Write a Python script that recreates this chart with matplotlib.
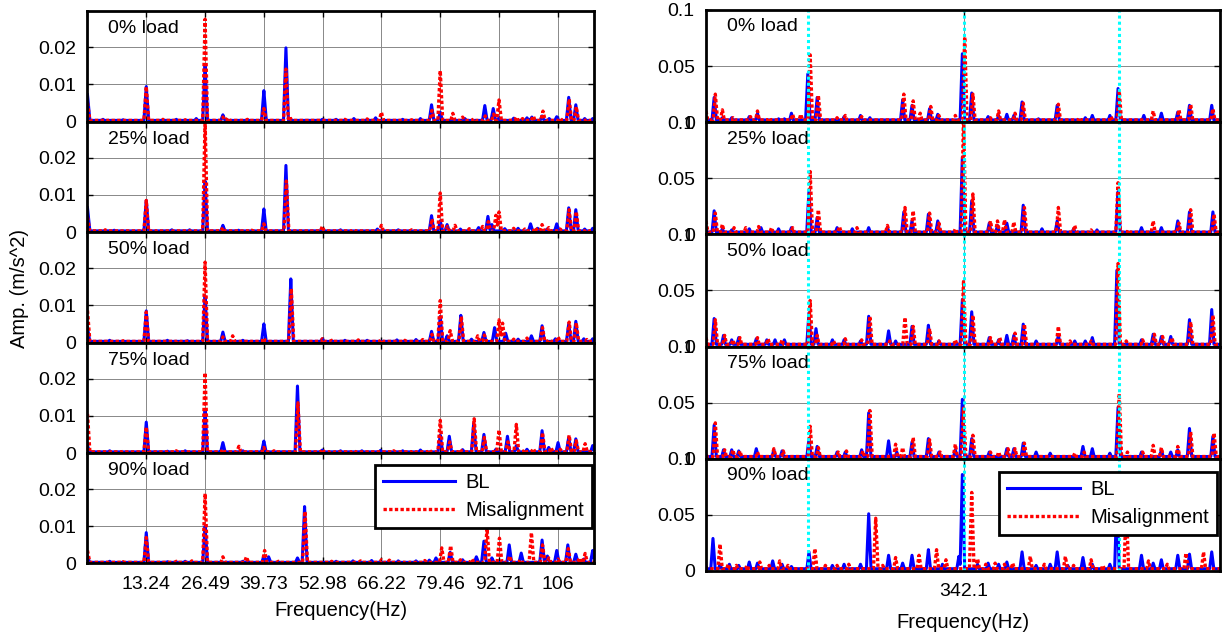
import numpy as np
import matplotlib.pyplot as plt

plt.rcParams['font.family'] = ['Liberation Sans', 'DejaVu Sans']
plt.rcParams['font.size'] = 14

loads = ['0% load', '25% load', '50% load', '75% load', '90% load']

# ---- low band spectra: (frequency Hz, amplitude m/s^2) ----
low_bl_0 = [(0.0, 0.0072), (13.24, 0.0094), (26.49, 0.0150), (30.5, 0.0018), (39.73, 0.0083), (44.7, 0.0198),
            (52.9, 0.0006), (64.9, 0.0010), (77.5, 0.0045), (79.46, 0.0025), (89.5, 0.0043), (91.4, 0.0035),
            (92.7, 0.0010), (99.0, 0.0010), (100.1, 0.0012), (102.4, 0.0015), (105.7, 0.0013), (108.4, 0.0065),
            (110.0, 0.0045), (113.8, 0.0008),
            (3.5, 0.0006), (8.0, 0.0005), (20.0, 0.0006), (24.5, 0.0008), (56.0, 0.0006), (60.0, 0.0008),
            (71.0, 0.0006), (75.0, 0.0008), (85.0, 0.0008), (96.0, 0.0009), (104.0, 0.0008), (112.0, 0.0008)]
low_mis_0 = [(0.0, 0.0050), (13.24, 0.0094), (26.49, 0.0275), (30.5, 0.0012), (31.6, 0.0010), (39.73, 0.0035),
             (44.7, 0.0141), (45.5, 0.0015), (66.2, 0.0025), (77.6, 0.0030), (79.46, 0.0137), (82.3, 0.0022),
             (84.5, 0.0012), (89.6, 0.0015), (91.5, 0.0020), (92.7, 0.0058), (96.6, 0.0012), (100.4, 0.0015),
             (102.6, 0.0028), (108.5, 0.0060), (110.1, 0.0040),
             (5.0, 0.0005), (17.0, 0.0006), (22.0, 0.0005), (36.0, 0.0006), (58.0, 0.0006), (63.0, 0.0007),
             (73.0, 0.0005), (87.0, 0.0008), (98.0, 0.0008), (106.5, 0.0009), (112.5, 0.0007)]
low_bl_25 = [(0.0, 0.0065), (13.24, 0.0085), (26.49, 0.0137), (30.5, 0.0018), (39.73, 0.0062), (44.7, 0.0179),
             (52.9, 0.0007), (65.3, 0.0008), (77.5, 0.0044), (79.46, 0.0030), (81.0, 0.0020), (88.1, 0.0012),
             (90.2, 0.0042), (91.1, 0.0020), (97.0, 0.0010), (99.8, 0.0022), (101.4, 0.0010), (105.7, 0.0022),
             (108.4, 0.0065), (110.0, 0.0060), (113.8, 0.0010),
             (6.0, 0.0005), (19.0, 0.0006), (23.0, 0.0006), (34.0, 0.0005), (57.0, 0.0006), (70.0, 0.0006),
             (84.0, 0.0008), (94.0, 0.0009), (103.5, 0.0008), (112.0, 0.0008)]
low_mis_25 = [(0.0, 0.0040), (13.24, 0.0085), (26.49, 0.0300), (30.5, 0.0012), (39.73, 0.0022), (44.8, 0.0137),
              (52.9, 0.0015), (66.2, 0.0018), (77.6, 0.0035), (79.46, 0.0105), (81.1, 0.0015), (82.8, 0.0018),
              (89.0, 0.0015), (90.3, 0.0028), (92.0, 0.0045), (92.7, 0.0054), (96.0, 0.0010), (100.9, 0.0012),
              (102.4, 0.0020), (103.9, 0.0012), (108.5, 0.0060), (110.1, 0.0055),
              (4.0, 0.0006), (16.0, 0.0005), (37.0, 0.0005), (60.0, 0.0007), (73.0, 0.0006), (86.0, 0.0009),
              (98.5, 0.0008), (106.5, 0.0008), (112.5, 0.0007)]
low_bl_50 = [(0.0, 0.0040), (13.24, 0.0085), (26.49, 0.0125), (30.5, 0.0028), (39.73, 0.0050), (45.8, 0.0171),
             (52.9, 0.0010), (69.7, 0.0007), (77.5, 0.0030), (79.46, 0.0070), (81.0, 0.0018), (84.1, 0.0073),
             (89.3, 0.0027), (91.7, 0.0040), (94.2, 0.0025), (100.0, 0.0018), (102.4, 0.0045), (105.4, 0.0010),
             (108.4, 0.0050), (110.0, 0.0057), (111.8, 0.0010), (113.8, 0.0010),
             (5.0, 0.0006), (18.0, 0.0006), (22.5, 0.0005), (35.0, 0.0006), (58.0, 0.0006), (63.0, 0.0006),
             (74.0, 0.0008), (86.5, 0.0009), (97.0, 0.0009)]
low_mis_50 = [(0.0, 0.0086), (13.24, 0.0082), (26.49, 0.0216), (30.5, 0.0015), (32.7, 0.0018), (39.73, 0.0012),
              (45.9, 0.0145), (52.9, 0.0010), (66.2, 0.0008), (77.6, 0.0022), (79.46, 0.0113), (81.7, 0.0032),
              (84.2, 0.0070), (87.9, 0.0018), (89.4, 0.0020), (92.7, 0.0061), (93.5, 0.0052), (99.0, 0.0012),
              (102.5, 0.0040), (106.0, 0.0015), (108.5, 0.0055), (110.1, 0.0053),
              (8.0, 0.0005), (20.5, 0.0006), (36.5, 0.0005), (55.0, 0.0006), (61.0, 0.0007), (71.5, 0.0006),
              (75.5, 0.0008), (96.0, 0.0009), (104.0, 0.0008), (112.5, 0.0008)]
low_bl_75 = [(0.0, 0.0020), (13.24, 0.0083), (26.49, 0.0113), (30.5, 0.0028), (39.73, 0.0032), (47.3, 0.0180),
             (52.9, 0.0008), (61.8, 0.0006), (79.46, 0.0048), (81.5, 0.0045), (87.0, 0.0080), (89.3, 0.0050),
             (94.6, 0.0045), (96.6, 0.0020), (102.4, 0.0060), (103.9, 0.0015), (106.0, 0.0028), (108.4, 0.0042),
             (110.0, 0.0038), (113.8, 0.0020),
             (5.0, 0.0006), (18.0, 0.0005), (22.0, 0.0006), (35.0, 0.0006), (57.0, 0.0006), (66.0, 0.0007),
             (71.0, 0.0006), (75.0, 0.0008), (84.5, 0.0009), (92.0, 0.0010), (99.0, 0.0010)]
low_mis_75 = [(0.0, 0.0105), (13.24, 0.0070), (26.49, 0.0216), (30.5, 0.0010), (34.1, 0.0018), (39.73, 0.0015),
              (47.4, 0.0135), (52.9, 0.0010), (79.46, 0.0088), (81.6, 0.0030), (87.1, 0.0092), (89.4, 0.0042),
              (92.7, 0.0062), (94.7, 0.0030), (96.6, 0.0077), (100.4, 0.0012), (102.5, 0.0055), (104.4, 0.0015),
              (108.5, 0.0048), (110.1, 0.0033), (112.1, 0.0025),
              (8.0, 0.0005), (20.0, 0.0006), (42.0, 0.0006), (55.0, 0.0006), (60.0, 0.0007), (69.0, 0.0006),
              (73.5, 0.0007), (77.0, 0.0009), (84.0, 0.0010), (98.5, 0.0010), (106.5, 0.0010)]
low_bl_90 = [(0.0, 0.0020), (13.24, 0.0083), (26.49, 0.0100), (39.73, 0.0020), (40.8, 0.0018), (47.3, 0.0015),
             (48.9, 0.0153), (59.8, 0.0007), (78.5, 0.0015), (81.7, 0.0030), (87.6, 0.0018), (89.3, 0.0060),
             (91.1, 0.0015), (95.0, 0.0050), (97.7, 0.0028), (102.4, 0.0063), (103.6, 0.0020), (105.7, 0.0035),
             (108.2, 0.0050), (110.0, 0.0025), (113.8, 0.0035),
             (5.0, 0.0006), (18.0, 0.0005), (22.0, 0.0006), (35.0, 0.0006), (56.0, 0.0006), (64.0, 0.0008),
             (70.0, 0.0007), (74.0, 0.0007), (77.0, 0.0009), (84.5, 0.0010), (111.8, 0.0012)]
low_mis_90 = [(0.0, 0.0035), (13.24, 0.0070), (26.49, 0.0188), (30.5, 0.0018), (35.8, 0.0018), (39.9, 0.0035),
              (49.0, 0.0140), (66.2, 0.0010), (79.8, 0.0042), (81.8, 0.0048), (86.6, 0.0012), (90.0, 0.0095),
              (92.8, 0.0068), (95.1, 0.0020), (100.0, 0.0083), (102.5, 0.0050), (103.9, 0.0015), (108.3, 0.0040),
              (110.8, 0.0015), (112.1, 0.0027),
              (8.0, 0.0005), (20.0, 0.0006), (23.5, 0.0007), (43.0, 0.0006), (55.0, 0.0006), (61.5, 0.0007),
              (68.0, 0.0009), (72.0, 0.0006), (76.0, 0.0008), (84.0, 0.0010), (97.5, 0.0010), (106.0, 0.0012)]

# ---- band around 342.1 Hz ----
high_bl_0 = [(320.1, 0.004), (320.8, 0.022), (321.5, 0.004), (322.3, 0.004), (323.8, 0.005), (324.5, 0.008),
             (326.3, 0.003), (326.8, 0.003), (327.4, 0.008), (328.8, 0.043), (329.6, 0.022), (331.9, 0.005),
             (333.3, 0.006), (334.1, 0.004), (336.9, 0.020), (337.7, 0.015), (339.2, 0.012), (339.9, 0.007),
             (342.0, 0.061), (342.8, 0.026), (344.2, 0.005), (345.1, 0.006), (345.8, 0.007), (346.4, 0.006),
             (347.1, 0.018), (348.5, 0.003), (350.1, 0.015), (352.5, 0.004), (353.1, 0.006), (354.6, 0.006),
             (355.3, 0.030), (357.5, 0.006), (359.0, 0.008), (360.4, 0.009), (361.4, 0.015), (363.3, 0.015)]
high_mis_0 = [(320.1, 0.010), (320.9, 0.025), (321.5, 0.011), (322.4, 0.004), (323.9, 0.005), (324.5, 0.010),
              (325.5, 0.004), (327.5, 0.007), (328.2, 0.007), (329.0, 0.060), (329.7, 0.024), (331.3, 0.004),
              (332.0, 0.006), (333.4, 0.005), (337.0, 0.025), (337.8, 0.019), (338.4, 0.008), (339.3, 0.014),
              (340.0, 0.006), (341.4, 0.006), (342.2, 0.076), (342.9, 0.025), (344.4, 0.004), (345.1, 0.010),
              (346.5, 0.008), (347.2, 0.017), (350.2, 0.016), (352.0, 0.004), (354.7, 0.005), (355.4, 0.028),
              (358.3, 0.010), (360.5, 0.011), (361.5, 0.016), (363.4, 0.012)]
high_bl_25 = [(320.1, 0.004), (320.8, 0.021), (321.5, 0.005), (322.3, 0.004), (323.8, 0.005), (324.8, 0.006),
              (326.3, 0.005), (327.4, 0.006), (328.9, 0.039), (329.6, 0.015), (331.3, 0.006), (332.6, 0.005),
              (334.0, 0.006), (335.6, 0.006), (337.0, 0.020), (337.7, 0.012), (339.1, 0.018), (339.9, 0.012),
              (342.0, 0.069), (342.8, 0.030), (344.3, 0.010), (345.0, 0.008), (345.8, 0.010), (347.2, 0.026),
              (348.8, 0.005), (350.1, 0.012), (351.5, 0.005), (353.5, 0.004), (355.3, 0.038), (357.3, 0.006),
              (359.0, 0.006), (360.4, 0.012), (361.4, 0.020), (363.4, 0.020)]
high_mis_25 = [(320.1, 0.012), (320.9, 0.019), (321.5, 0.009), (322.5, 0.006), (323.5, 0.006), (324.6, 0.007),
               (325.7, 0.006), (327.5, 0.006), (329.0, 0.056), (329.7, 0.022), (331.5, 0.007), (333.0, 0.006),
               (335.6, 0.008), (337.1, 0.024), (337.8, 0.021), (339.2, 0.019), (340.0, 0.010), (341.4, 0.005),
               (342.1, 0.105), (342.9, 0.036), (344.4, 0.012), (345.0, 0.012), (345.6, 0.013), (346.4, 0.011),
               (347.3, 0.024), (350.2, 0.024), (351.6, 0.008), (353.0, 0.004), (355.3, 0.046), (356.2, 0.004),
               (358.3, 0.012), (360.5, 0.010), (361.5, 0.022), (363.5, 0.018)]
high_bl_50 = [(320.1, 0.003), (320.8, 0.025), (321.6, 0.010), (322.3, 0.006), (322.9, 0.008), (324.4, 0.007),
              (325.3, 0.006), (326.0, 0.006), (326.8, 0.006), (328.9, 0.030), (329.5, 0.016), (330.9, 0.006),
              (331.9, 0.006), (333.3, 0.005), (334.0, 0.027), (335.7, 0.014), (336.3, 0.005), (337.7, 0.018),
              (339.1, 0.019), (340.0, 0.005), (342.0, 0.042), (342.8, 0.031), (344.3, 0.008), (345.1, 0.006),
              (345.8, 0.010), (346.4, 0.010), (347.2, 0.020), (348.3, 0.005), (350.2, 0.010), (351.6, 0.005),
              (352.5, 0.005), (353.1, 0.008), (355.2, 0.068), (357.3, 0.006), (358.3, 0.011), (359.0, 0.009),
              (359.8, 0.009), (361.4, 0.024), (363.3, 0.033)]
high_mis_50 = [(320.1, 0.008), (320.9, 0.024), (321.7, 0.010), (322.4, 0.006), (323.0, 0.008), (324.5, 0.008),
               (325.4, 0.007), (326.6, 0.006), (329.0, 0.041), (329.6, 0.010), (331.0, 0.005), (332.0, 0.007),
               (333.4, 0.006), (334.1, 0.027), (335.8, 0.005), (337.1, 0.026), (337.8, 0.018), (339.2, 0.016),
               (340.0, 0.005), (341.4, 0.006), (342.1, 0.058), (342.9, 0.028), (344.4, 0.008), (345.2, 0.008),
               (346.5, 0.012), (347.3, 0.020), (350.2, 0.018), (351.2, 0.005), (353.0, 0.005), (355.3, 0.074),
               (356.0, 0.005), (357.4, 0.006), (358.4, 0.011), (359.1, 0.009), (359.9, 0.008), (361.5, 0.022),
               (363.4, 0.028)]
high_bl_75 = [(320.1, 0.003), (320.8, 0.030), (321.6, 0.008), (322.3, 0.008), (322.9, 0.007), (324.4, 0.009),
              (325.9, 0.008), (326.6, 0.007), (328.9, 0.018), (329.6, 0.011), (331.3, 0.006), (332.0, 0.006),
              (333.4, 0.008), (334.0, 0.041), (335.7, 0.016), (336.4, 0.006), (337.7, 0.015), (339.1, 0.018),
              (340.0, 0.006), (341.4, 0.008), (342.0, 0.053), (342.8, 0.018), (344.3, 0.006), (345.8, 0.009),
              (346.4, 0.009), (347.2, 0.014), (348.3, 0.006), (349.5, 0.005), (352.3, 0.011), (353.1, 0.009),
              (354.6, 0.005), (355.3, 0.046), (357.3, 0.006), (359.0, 0.008), (359.8, 0.006), (360.4, 0.008),
              (361.4, 0.027), (363.4, 0.020)]
high_mis_75 = [(320.1, 0.003), (320.9, 0.032), (321.7, 0.008), (322.4, 0.008), (323.0, 0.007), (324.5, 0.006),
               (325.9, 0.009), (326.7, 0.007), (329.0, 0.029), (329.7, 0.010), (331.4, 0.006), (332.1, 0.007),
               (333.5, 0.007), (334.1, 0.043), (336.3, 0.013), (336.9, 0.010), (337.8, 0.019), (339.2, 0.017),
               (340.1, 0.006), (341.4, 0.013), (342.1, 0.045), (342.9, 0.021), (344.4, 0.006), (345.1, 0.006),
               (345.9, 0.009), (346.5, 0.009), (347.3, 0.014), (351.6, 0.005), (352.4, 0.006), (355.4, 0.058),
               (356.1, 0.006), (357.4, 0.006), (358.3, 0.012), (359.0, 0.010), (360.4, 0.011), (361.5, 0.024),
               (363.5, 0.023)]
high_bl_90 = [(320.1, 0.003), (320.7, 0.029), (321.3, 0.006), (322.1, 0.006), (322.9, 0.005), (323.8, 0.008),
              (324.5, 0.007), (325.8, 0.009), (326.6, 0.006), (327.4, 0.004), (328.9, 0.017), (330.9, 0.005),
              (331.9, 0.006), (333.3, 0.006), (334.0, 0.051), (335.7, 0.014), (336.9, 0.007), (337.7, 0.014),
              (339.1, 0.019), (340.3, 0.006), (341.7, 0.013), (342.0, 0.086), (343.3, 0.006), (344.2, 0.007),
              (345.1, 0.006), (345.8, 0.008), (347.1, 0.017), (348.3, 0.005), (349.5, 0.006), (350.1, 0.017),
              (351.0, 0.005), (352.3, 0.012), (353.1, 0.006), (354.6, 0.006), (355.2, 0.065), (357.3, 0.014),
              (358.3, 0.007), (359.0, 0.010), (360.4, 0.014), (361.4, 0.015), (363.3, 0.017)]
high_mis_90 = [(320.1, 0.004), (321.3, 0.024), (322.0, 0.006), (322.7, 0.005), (323.6, 0.005), (324.7, 0.008),
               (325.5, 0.005), (326.4, 0.009), (327.1, 0.005), (329.4, 0.020), (330.3, 0.005), (331.3, 0.005),
               (332.3, 0.006), (334.6, 0.047), (335.2, 0.005), (336.3, 0.012), (338.3, 0.014), (339.8, 0.019),
               (340.6, 0.010), (342.8, 0.070), (343.3, 0.011), (344.0, 0.006), (344.8, 0.007), (345.6, 0.006),
               (346.3, 0.007), (347.8, 0.013), (349.0, 0.006), (350.8, 0.013), (351.5, 0.005), (353.0, 0.010),
               (354.0, 0.005), (356.0, 0.060), (357.9, 0.009), (359.5, 0.006), (361.1, 0.016), (362.6, 0.017)]

low_bl = [low_bl_0, low_bl_25, low_bl_50, low_bl_75, low_bl_90]
low_mis = [low_mis_0, low_mis_25, low_mis_50, low_mis_75, low_mis_90]
high_bl = [high_bl_0, high_bl_25, high_bl_50, high_bl_75, high_bl_90]
high_mis = [high_mis_0, high_mis_25, high_mis_50, high_mis_75, high_mis_90]

f_rot = 13.245
low_ticks = [0, 13.245, 26.49, 39.735, 52.98, 66.225, 79.47, 92.715, 105.96]
low_ticklabels = ['', '13.24', '26.49', '39.73', '52.98', '66.22', '79.46', '92.71', '106']
f_center = 342.1
cyan_lines = [f_center - f_rot, f_center, f_center + f_rot]


def spectrum(lo, hi, step, peaks, floor, hw):
    fpk = np.array([p[0] for p in peaks])
    freq = np.union1d(np.arange(lo, hi + step, step), fpk)
    amp = np.full_like(freq, floor)
    for f0, a0 in peaks:
        amp = np.maximum(amp, a0 * (1 - np.abs(freq - f0) / hw))
    return freq, amp


def style_axes(ax):
    for s in ax.spines.values():
        s.set_linewidth(2.0)
        s.set_color('black')
    ax.tick_params(direction='in', top=True, right=True, length=4, width=1,
                   labelsize=14, pad=8)
    ax.grid(True, color='#888888', linewidth=0.7)
    ax.set_axisbelow(True)


def add_legend(ax, anchor):
    leg = ax.legend(loc='upper right', bbox_to_anchor=anchor, borderaxespad=0,
                    fontsize=14.5, handlelength=3.6, handletextpad=0.5,
                    labelspacing=0.45, fancybox=False, framealpha=1, borderpad=0.4)
    leg.get_frame().set_edgecolor('black')
    leg.get_frame().set_linewidth(2.0)


fig = plt.figure(figsize=(12.22, 6.35), dpi=100)

blue = '#0000ff'
red = '#ff0000'
dots = (0, (1, 0.7))

# left column: 0 - 114 Hz
lx, lw_ = 0.0716, 0.4145
lbot, lh = 0.1126, 0.174
for i in range(5):
    ax = fig.add_axes([lx, lbot + (4 - i) * lh, lw_, lh])
    f, a = spectrum(0, 114.1, 0.02, low_bl[i], 0.0003, 0.55)
    ax.plot(f, a, color=blue, lw=2.2, label='BL')
    f, a = spectrum(0, 114.1, 0.02, low_mis[i], 0.0003, 0.55)
    ax.plot(f, a, color=red, lw=2.4, ls=dots, label='Misalignment')
    ax.set_xlim(0, 114.1)
    ax.set_ylim(0, 0.0297)
    ax.set_yticks([0, 0.01, 0.02])
    ax.set_yticklabels(['0', '0.01', '0.02'])
    ax.set_xticks(low_ticks)
    style_axes(ax)
    ax.text(0.04, 0.84, loads[i], transform=ax.transAxes, fontsize=14, va='center')
    if i == 4:
        ax.set_xticklabels(low_ticklabels)
        ax.tick_params(axis='x', pad=9)
        ax.set_xlabel('Frequency(Hz)', fontsize=14.5, labelpad=6)
        add_legend(ax, (0.996, 0.892))
    else:
        ax.set_xticklabels([])

fig.text(20 / 1222, 1 - 288 / 635, 'Amp. (m/s^2)', rotation=90, fontsize=14.5,
         ha='center', va='center')

# right column: band around 342.1 Hz
rx, rw = 0.5777, 0.4206
rbot, rh = 0.1008, 0.1767
for i in range(5):
    ax = fig.add_axes([rx, rbot + (4 - i) * rh, rw, rh])
    f, a = spectrum(320.1, 364.0, 0.01, high_bl[i], 0.002, 0.2)
    ax.plot(f, a, color=blue, lw=2.2, label='BL')
    f, a = spectrum(320.1, 364.0, 0.01, high_mis[i], 0.002, 0.2)
    ax.plot(f, a, color=red, lw=2.4, ls=dots, label='Misalignment')
    for fc in cyan_lines:
        ax.axvline(fc, color='cyan', lw=2.2, ls=(0, (1, 1)))
    ax.set_xlim(320.1, 364.0)
    ax.set_ylim(0, 0.1)
    ax.set_yticks([0, 0.05, 0.1])
    ax.set_yticklabels(['0', '0.05', '0.1'])
    ax.set_xticks([f_center])
    style_axes(ax)
    ax.text(0.04, 0.85, loads[i], transform=ax.transAxes, fontsize=14, va='center')
    if i == 4:
        ax.set_xticklabels(['342.1'])
        ax.tick_params(axis='x', pad=9)
        ax.set_xlabel('Frequency(Hz)', fontsize=14.5, labelpad=9)
        add_legend(ax, (0.994, 0.882))
    else:
        ax.set_xticklabels([])

fig.savefig('out.png', dpi=100)
